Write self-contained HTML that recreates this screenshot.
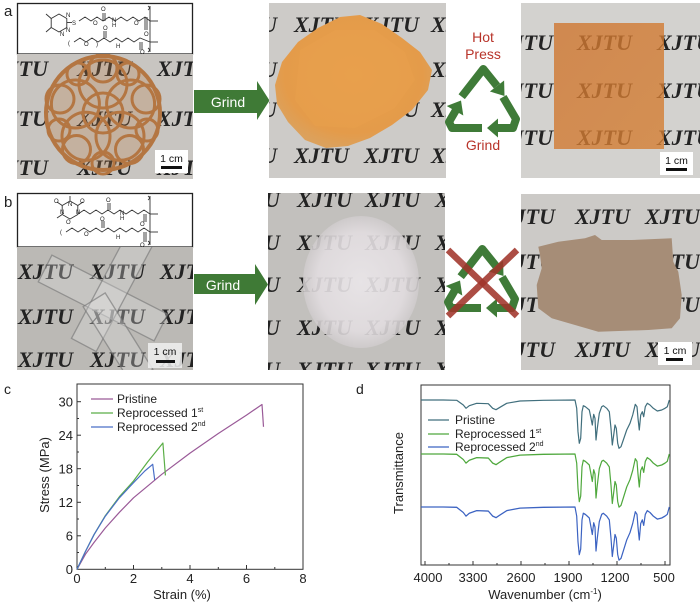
<!DOCTYPE html>
<html><head><meta charset="utf-8"><style>
html,body{margin:0;padding:0;background:#fff;}
body{width:700px;height:607px;overflow:hidden;}
svg{display:block;}
.x{font-family:"Liberation Serif",serif;font-weight:bold;font-style:italic;font-size:22px;fill:#232323;}
.t{font-family:"Liberation Sans",sans-serif;}
</style></head><body>
<svg width="700" height="607" viewBox="0 0 700 607" xmlns="http://www.w3.org/2000/svg">
<defs>
<clipPath id="ca1"><rect x="17" y="54" width="176" height="125"/></clipPath>
<clipPath id="ca2"><rect x="269" y="3" width="177" height="175"/></clipPath>
<clipPath id="ca3"><rect x="521" y="3" width="179" height="175"/></clipPath>
<clipPath id="cb1"><rect x="17" y="247" width="176" height="123"/></clipPath>
<clipPath id="cb2"><rect x="268" y="193" width="177" height="177"/></clipPath>
<clipPath id="cb3"><rect x="521" y="194" width="179" height="176"/></clipPath>
<radialGradient id="gpile" cx="50%" cy="45%" r="55%"><stop offset="0" stop-color="#e9a04c"/><stop offset="0.8" stop-color="#e49b4a"/><stop offset="1" stop-color="#dca15c"/></radialGradient>
<radialGradient id="gwhite" cx="50%" cy="50%" r="50%"><stop offset="0" stop-color="#ebe7ea"/><stop offset="0.75" stop-color="#e2dde0"/><stop offset="1" stop-color="#cfcbcc"/></radialGradient>
<linearGradient id="gplate" x1="0" y1="0" x2="1" y2="1"><stop offset="0" stop-color="#cf7630"/><stop offset="1" stop-color="#d47f34"/></linearGradient>
<g id="rec" fill="none" stroke="#3f7b38" stroke-width="8" stroke-linejoin="round">
 <polyline points="461.7,96.7 483.3,69 497,86"/>
 <polygon points="489.9,91.5 504.1,80.5 504.5,96" fill="#3f7b38" stroke="none"/>
 <polyline points="503,97 516,119 513,128 498,128"/>
 <polygon points="498,118.5 498,137.5 487,128" fill="#3f7b38" stroke="none"/>
 <polyline points="482,128 452,128 449,122 456,110"/>
 <polygon points="446.7,106 463.3,115.5 461,100.5" fill="#3f7b38" stroke="none"/>
</g>
</defs>

<!-- panel labels -->
<text class="t" x="4" y="16" font-size="15" fill="#222">a</text>
<text class="t" x="4" y="207" font-size="15" fill="#222">b</text>
<text class="t" x="4" y="394" font-size="14" fill="#222">c</text>
<text class="t" x="356" y="394" font-size="14" fill="#222">d</text>

<!-- ===== a chemical structure ===== -->
<rect x="17.5" y="3.5" width="175" height="50.5" fill="#fff" stroke="#222" stroke-width="1.3"/>
<g fill="none" stroke="#333" stroke-width="0.9">
 <polygon points="59,14 66.8,18.5 66.8,27.5 59,32 51.2,27.5 51.2,18.5"/>
 <line x1="51.2" y1="18.5" x2="46" y2="14"/><line x1="51.2" y1="27.5" x2="46" y2="32"/>
 <line x1="66.8" y1="22.5" x2="72" y2="22.5"/>
 <polyline points="79,21 85,17 91,21 97,17 103,21 109,17 115,21 121,17 127,21 133,17 139,21 145,17 150,21"/>
 <line x1="103" y1="21" x2="103" y2="13"/><line x1="105" y1="21" x2="105" y2="13"/>
 <line x1="145" y1="17" x2="145" y2="30"/><line x1="147" y1="17" x2="147" y2="30"/>
 <polyline points="74,42 80,38 86,42 92,38 98,42 104,38 110,42 116,38 122,42 128,38 134,42 140,38 150,42"/>
 <line x1="104" y1="38" x2="104" y2="31"/><line x1="106" y1="38" x2="106" y2="31"/>
 <line x1="140" y1="42" x2="140" y2="50"/><line x1="142" y1="42" x2="142" y2="50"/>
 <line x1="150" y1="6" x2="150" y2="52"/>
 <line x1="150" y1="21" x2="158" y2="21"/><line x1="150" y1="42" x2="158" y2="42"/>
 <path d="M148 6 q3 2 0 4 M148 48 q3 2 0 4"/>
</g>
<g class="t" font-size="6" fill="#222">
 <text x="66" y="17">N</text><text x="66" y="32">N</text><text x="60" y="36">N</text>
 <text x="72" y="25">S</text><text x="101" y="11">O</text><text x="93" y="25">O</text>
 <text x="112" y="27">H</text><text x="112" y="22">N</text><text x="134" y="25">O</text>
 <text x="144" y="36">O</text><text x="68" y="45">(</text><text x="84" y="46">O</text>
 <text x="96" y="46">)</text><text x="103" y="30">O</text><text x="116" y="48">H</text>
 <text x="140" y="54">O</text>
</g>

<!-- ===== a1 photo: sphere ===== -->
<g clip-path="url(#ca1)">
 <rect x="17" y="54" width="176" height="125" fill="#c8c5c1"/>
 <g class="x">
  <text x="-7" y="76">XJTU</text><text x="77" y="76">XJTU</text><text x="157" y="76">XJTU</text>
  <text x="-7" y="126">XJTU</text><text x="77" y="126">XJTU</text><text x="157" y="126">XJTU</text>
  <text x="-7" y="175">XJTU</text><text x="77" y="175">XJTU</text><text x="157" y="175">XJTU</text>
 </g>
 <circle cx="103" cy="113" r="57" fill="rgba(185,125,72,0.28)"/>
 <g fill="none" stroke="#b47642" stroke-width="3">
  <circle cx="103" cy="113" r="57" stroke-width="4"/>
  <circle cx="103" cy="113" r="20"/>
  <circle cx="103" cy="84" r="24"/><circle cx="130.6" cy="104" r="24"/><circle cx="120" cy="136.3" r="24"/>
  <circle cx="86" cy="136.3" r="24"/><circle cx="75.4" cy="104" r="24"/>
  <circle cx="103" cy="68" r="14"/><circle cx="146" cy="99" r="14"/><circle cx="129.5" cy="149.5" r="14"/>
  <circle cx="76.5" cy="149.5" r="14"/><circle cx="60" cy="99" r="14"/>
  <circle cx="128" cy="74" r="11"/><circle cx="147" cy="130" r="11"/><circle cx="103" cy="163" r="11"/>
  <circle cx="59" cy="130" r="11"/><circle cx="78" cy="74" r="11"/>
 </g>
 <rect x="155" y="150" width="33" height="23" fill="#fff"/>
 <text class="t" x="171.5" y="162" font-size="10.5" text-anchor="middle" fill="#111">1 cm</text>
 <rect x="161" y="166" width="21" height="3" fill="#111"/>
</g>

<!-- Grind arrow a -->
<polygon points="194,90 257,90 257,81 269.5,100.5 257,120 257,113 194,113" fill="#3f7a36"/>
<text class="t" x="228" y="107" font-size="14" fill="#fff" text-anchor="middle">Grind</text>

<!-- ===== a2 photo: orange pile ===== -->
<g clip-path="url(#ca2)">
 <rect x="269" y="3" width="177" height="175" fill="#cdcbc8"/>
 <g class="x">
  <text x="222" y="32">XJTU</text><text x="294" y="32">XJTU</text><text x="364" y="32">XJTU</text><text x="431" y="32">XJTU</text>
  <text x="222" y="77">XJTU</text><text x="294" y="77">XJTU</text><text x="364" y="77">XJTU</text><text x="431" y="77">XJTU</text>
  <text x="222" y="117">XJTU</text><text x="294" y="117">XJTU</text><text x="364" y="117">XJTU</text><text x="431" y="117">XJTU</text>
  <text x="222" y="163">XJTU</text><text x="294" y="163">XJTU</text><text x="364" y="163">XJTU</text><text x="431" y="163">XJTU</text>
 </g>
 <path d="M275,85 L282,62 L298,42 L318,28 L340,17 L360,15 L382,24 L402,38 L420,52 L432,70 L428,90 L412,110 L392,125 L370,138 L348,146 L326,148 L305,140 L288,122 L277,104 Z" fill="url(#gpile)"/>
 <path d="M300,50 L335,30 L375,30 L405,52 L415,80 L395,108 L355,128 L315,126 L295,100 Z" fill="#e8a04d" opacity="0.6"/>
</g>

<!-- recycle a + Hot Press -->
<use href="#rec"/>
<text class="t" x="483" y="42" font-size="14" fill="#b8342a" text-anchor="middle">Hot</text>
<text class="t" x="483" y="59" font-size="14" fill="#b8342a" text-anchor="middle">Press</text>
<text class="t" x="483" y="150" font-size="14" fill="#b8342a" text-anchor="middle">Grind</text>

<!-- ===== a3 photo: plate ===== -->
<g clip-path="url(#ca3)">
 <rect x="521" y="3" width="179" height="175" fill="#d3d2cf"/>
 <g class="x">
  <text x="498" y="50">XJTU</text><text x="577" y="50">XJTU</text><text x="657" y="50">XJTU</text>
  <text x="498" y="98">XJTU</text><text x="577" y="98">XJTU</text><text x="657" y="98">XJTU</text>
  <text x="498" y="145">XJTU</text><text x="577" y="145">XJTU</text><text x="657" y="145">XJTU</text>
 </g>
 <rect x="554" y="23" width="110" height="126" fill="url(#gplate)" opacity="0.8"/>
 <rect x="660" y="152" width="33" height="23" fill="#fff"/>
 <text class="t" x="676.5" y="164" font-size="10.5" text-anchor="middle" fill="#111">1 cm</text>
 <rect x="666" y="168" width="21" height="3" fill="#111"/>
</g>

<!-- ===== b chemical structure ===== -->
<rect x="17.5" y="193.5" width="175" height="53.5" fill="#fff" stroke="#222" stroke-width="1.3"/>
<g fill="none" stroke="#333" stroke-width="0.9">
 <polygon points="70,201 77.8,205.5 77.8,214.5 70,219 62.2,214.5 62.2,205.5"/>
 <line x1="70" y1="201" x2="70" y2="196"/><line x1="62.2" y1="214.5" x2="57" y2="218"/>
 <line x1="62.2" y1="205.5" x2="57" y2="202"/><line x1="77.8" y1="205.5" x2="83" y2="202"/>
 <polyline points="78,214 84,210 90,214 96,210 102,214 108,210 114,214 120,210 126,214 132,210 138,214 144,210 150,214"/>
 <line x1="108" y1="210" x2="108" y2="203"/><line x1="110" y1="210" x2="110" y2="203"/>
 <line x1="144" y1="214" x2="144" y2="222"/><line x1="146" y1="214" x2="146" y2="222"/>
 <polyline points="66,232 72,228 78,232 84,228 90,232 96,228 102,232 108,228 114,232 120,228 126,232 132,228 138,232 144,228 150,232"/>
 <line x1="102" y1="228" x2="102" y2="221"/><line x1="104" y1="228" x2="104" y2="221"/>
 <line x1="144" y1="232" x2="144" y2="242"/><line x1="146" y1="232" x2="146" y2="242"/>
 <line x1="150" y1="196" x2="150" y2="245"/>
 <line x1="150" y1="214" x2="158" y2="214"/><line x1="150" y1="232" x2="158" y2="232"/>
 <path d="M148 196 q3 2 0 4 M148 241 q3 2 0 4"/>
</g>
<g class="t" font-size="6" fill="#222">
 <text x="54" y="203">O</text><text x="80" y="203">O</text><text x="68" y="206">N</text>
 <text x="60" y="214">N</text><text x="76" y="214">N</text><text x="66" y="224">O</text>
 <text x="106" y="202">O</text><text x="120" y="220">H</text><text x="120" y="215">N</text>
 <text x="60" y="234">(</text><text x="84" y="236">O</text><text x="100" y="221">O</text>
 <text x="116" y="239">H</text><text x="140" y="247">O</text><text x="140" y="226">O</text>
</g>

<!-- ===== b1 photo: glass ===== -->
<g clip-path="url(#cb1)">
 <rect x="17" y="247" width="176" height="123" fill="#bbb9b5"/>
 <g class="x">
  <text x="18" y="279">XJTU</text><text x="90" y="279">XJTU</text><text x="160" y="279">XJTU</text>
  <text x="18" y="324">XJTU</text><text x="90" y="324">XJTU</text><text x="160" y="324">XJTU</text>
  <text x="18" y="367">XJTU</text><text x="90" y="367">XJTU</text><text x="160" y="367">XJTU</text>
 </g>
 <g fill="rgba(225,225,225,0.3)" stroke="rgba(120,120,120,0.65)" stroke-width="1.3">
  <rect x="-65" y="-15" width="130" height="30" transform="translate(103,298) rotate(27)"/>
  <rect x="-60" y="-14" width="120" height="28" transform="translate(112,292) rotate(-62)"/>
  <rect x="-45" y="-13" width="90" height="26" transform="translate(118,338) rotate(58)"/>
 </g>
 <rect x="148" y="343" width="34" height="25" fill="rgba(240,240,240,0.85)"/>
 <text class="t" x="165" y="355" font-size="10.5" text-anchor="middle" fill="#111">1 cm</text>
 <rect x="156" y="360" width="19" height="3" fill="#111"/>
</g>

<!-- Grind arrow b -->
<polygon points="194,274 255,274 255,264 268,284.5 255,305 255,294 194,294" fill="#3f7a36"/>
<text class="t" x="223" y="290" font-size="14" fill="#fff" text-anchor="middle">Grind</text>

<!-- ===== b2 photo: white pile ===== -->
<g clip-path="url(#cb2)">
 <rect x="268" y="193" width="177" height="177" fill="#c2c0bd"/>
 <g class="x">
  <text x="225" y="207">XJTU</text><text x="297" y="207">XJTU</text><text x="365" y="207">XJTU</text><text x="435" y="207">XJTU</text>
  <text x="225" y="250">XJTU</text><text x="297" y="250">XJTU</text><text x="365" y="250">XJTU</text><text x="435" y="250">XJTU</text>
  <text x="225" y="292">XJTU</text><text x="297" y="292">XJTU</text><text x="365" y="292">XJTU</text><text x="435" y="292">XJTU</text>
  <text x="225" y="335">XJTU</text><text x="297" y="335">XJTU</text><text x="365" y="335">XJTU</text><text x="435" y="335">XJTU</text>
  <text x="225" y="377">XJTU</text><text x="297" y="377">XJTU</text><text x="365" y="377">XJTU</text><text x="435" y="377">XJTU</text>
 </g>
 <ellipse cx="361" cy="282" rx="58" ry="66" fill="url(#gwhite)" opacity="0.9"/>
</g>

<!-- recycle b with X -->
<use href="#rec" transform="translate(-1,180)"/>
<g stroke="rgba(160,52,42,0.88)" stroke-width="6.5" stroke-linecap="butt">
 <line x1="448" y1="250" x2="517" y2="316"/>
 <line x1="517" y1="250" x2="448" y2="316"/>
</g>

<!-- ===== b3 photo: slab ===== -->
<g clip-path="url(#cb3)">
 <rect x="521" y="194" width="179" height="176" fill="#cccac7"/>
 <g class="x">
  <text x="500" y="224">XJTU</text><text x="575" y="224">XJTU</text><text x="645" y="224">XJTU</text>
  <text x="500" y="269">XJTU</text><text x="575" y="269">XJTU</text><text x="645" y="269">XJTU</text>
  <text x="500" y="312">XJTU</text><text x="575" y="312">XJTU</text><text x="645" y="312">XJTU</text>
  <text x="500" y="357">XJTU</text><text x="575" y="357">XJTU</text><text x="645" y="357">XJTU</text>
 </g>
 <polygon points="538.3,246.7 558.3,241.7 585,238.3 595,235 601.7,240 631.7,240 671.7,238.3 673.3,261.7 678.3,271.7 681.7,295 680,318.3 671.7,328.3 648.3,330 598.3,331.7 575,325 551.7,318.3 538.3,308.3 536.7,285 541.7,268.3 540,255" fill="#a68d77"/>
 <rect x="658" y="342" width="34" height="23" fill="#fff"/>
 <text class="t" x="675" y="354" font-size="10.5" text-anchor="middle" fill="#111">1 cm</text>
 <rect x="666" y="358" width="17" height="3" fill="#111"/>
</g>

<!-- ===== chart c ===== -->
<g class="t">
 <rect x="77" y="384" width="226" height="185.3" fill="none" stroke="#333" stroke-width="1"/>
 <g stroke="#333" stroke-width="1">
  <line x1="77" y1="569.3" x2="77" y2="565"/><line x1="133.5" y1="569.3" x2="133.5" y2="565"/>
  <line x1="190" y1="569.3" x2="190" y2="565"/><line x1="246.5" y1="569.3" x2="246.5" y2="565"/>
  <line x1="105.3" y1="569.3" x2="105.3" y2="567"/><line x1="161.8" y1="569.3" x2="161.8" y2="567"/>
  <line x1="218.3" y1="569.3" x2="218.3" y2="567"/><line x1="274.8" y1="569.3" x2="274.8" y2="567"/>
  <line x1="77" y1="535.8" x2="81" y2="535.8"/><line x1="77" y1="502.3" x2="81" y2="502.3"/>
  <line x1="77" y1="468.7" x2="81" y2="468.7"/><line x1="77" y1="435.2" x2="81" y2="435.2"/>
  <line x1="77" y1="401.7" x2="81" y2="401.7"/>
  <line x1="77" y1="552.5" x2="79" y2="552.5"/><line x1="77" y1="519" x2="79" y2="519"/>
  <line x1="77" y1="485.5" x2="79" y2="485.5"/><line x1="77" y1="452" x2="79" y2="452"/>
  <line x1="77" y1="418.5" x2="79" y2="418.5"/>
 </g>
 <g font-size="13" fill="#222" text-anchor="middle">
  <text x="77" y="583">0</text><text x="133.5" y="583">2</text><text x="190" y="583">4</text>
  <text x="246.5" y="583">6</text><text x="303" y="583">8</text>
 </g>
 <g font-size="13" fill="#222" text-anchor="end">
  <text x="73" y="574">0</text><text x="73" y="540.5">6</text><text x="73" y="507">12</text>
  <text x="73" y="473.5">18</text><text x="73" y="440">24</text><text x="73" y="406.5">30</text>
 </g>
 <text x="182" y="599" font-size="13" fill="#222" text-anchor="middle">Strain (%)</text>
 <text transform="translate(49,475) rotate(-90)" font-size="13" fill="#222" text-anchor="middle">Stress (MPa)</text>
 <g fill="none" stroke-width="1.2" stroke-linejoin="round">
  <polyline stroke="#9a5a98" points="77,569.3 85.5,554.2 94,542.5 105.3,528 119.4,512.3 133.5,497.8 161.8,474.3 190,453.1 218.3,433.5 246.5,415.1 262,404.5 263.5,426.8"/>
  <polyline stroke="#5bae47" points="77,569.3 85.5,551.4 94,534.7 105.3,515.7 119.4,496.7 133.5,481 147.6,462 162.9,443 165.4,475.4"/>
  <polyline stroke="#4a6fc6" points="77,569.3 85.5,551.4 94,534.7 105.3,516.2 119.4,497.8 133.5,482.7 144.8,471 152.7,464.3 154.7,479.9"/>
 </g>
 <line x1="91" y1="399" x2="113" y2="399" stroke="#9a5a98" stroke-width="1.3"/>
 <line x1="91" y1="413" x2="113" y2="413" stroke="#5bae47" stroke-width="1.3"/>
 <line x1="91" y1="427" x2="113" y2="427" stroke="#4a6fc6" stroke-width="1.3"/>
 <g font-size="12" fill="#222">
  <text x="117" y="403">Pristine</text>
  <text x="117" y="417">Reprocessed 1<tspan font-size="7" dy="-5">st</tspan></text>
  <text x="117" y="431">Reprocessed 2<tspan font-size="7" dy="-5">nd</tspan></text>
 </g>
</g>

<!-- ===== chart d ===== -->
<g class="t">
 <rect x="421" y="385" width="249" height="180" fill="none" stroke="#333" stroke-width="1"/>
 <g stroke="#333" stroke-width="1">
  <line x1="425" y1="565" x2="425" y2="561"/><line x1="473" y1="565" x2="473" y2="561"/>
  <line x1="521" y1="565" x2="521" y2="561"/><line x1="569" y1="565" x2="569" y2="561"/>
  <line x1="617" y1="565" x2="617" y2="561"/><line x1="665" y1="565" x2="665" y2="561"/>
  <line x1="449" y1="565" x2="449" y2="563"/><line x1="497" y1="565" x2="497" y2="563"/>
  <line x1="545" y1="565" x2="545" y2="563"/><line x1="593" y1="565" x2="593" y2="563"/>
  <line x1="641" y1="565" x2="641" y2="563"/>
 </g>
 <g font-size="13" fill="#222" text-anchor="middle">
  <text x="428" y="582">4000</text><text x="473" y="582">3300</text><text x="521" y="582">2600</text>
  <text x="568" y="582">1900</text><text x="615" y="582">1200</text><text x="664" y="582">500</text>
 </g>
 <text x="545" y="599" font-size="13" fill="#222" text-anchor="middle">Wavenumber (cm<tspan font-size="8" dy="-5">-1</tspan><tspan dy="5">)</tspan></text>
 <text transform="translate(403,473) rotate(-90)" font-size="13" fill="#222" text-anchor="middle">Transmittance</text>
 <defs>
  <path id="spec" fill="none" d="M421,400 L443.3,400 L456.7,400.3 L463.3,405 L466,408.3 L469.3,405.7 L476.7,403.3 L488.3,403.7 L492.7,408.3 L496,409.7 L499.3,407.7 L506.7,403.3 L520,401 L543.3,400.3 L575,400 L576.7,408.3 L578,431.7 L579.3,443.3 L580.7,438.3 L582,411.7 L583.3,405.7 L585.3,406.7 L587.3,408.3 L589.3,410 L591,418.3 L592.3,425 L593.7,414.3 L595,418.3 L596,440 L597.3,428.3 L599.3,413.3 L601.7,406.7 L603.3,405.7 L606.7,408.3 L609.3,411.7 L611,428.3 L612.3,445 L613.7,435 L615,425 L616.3,428.3 L617.7,443.3 L619,448.3 L621,446.7 L623.3,440 L626.7,430 L630,423.3 L632.7,415 L635.3,404.3 L637,406.7 L638,418.3 L639.3,430 L640.7,415 L642.3,411.7 L643.7,416.7 L645.3,406.7 L647.3,403.3 L650,405 L653.3,408.3 L657.3,411 L661.7,410 L665,408.3 L667.3,406.7 L669.3,400"/>
 </defs>
 <g stroke-width="1.2" stroke-linejoin="round">
  <use href="#spec" stroke="#416f7d"/>
  <use href="#spec" stroke="#4fa83d" transform="matrix(1 0 0 1.1 0 14)"/>
  <use href="#spec" stroke="#3c63c2" transform="matrix(1 0 0 1.1 0 67)"/>
 </g>
 <line x1="428" y1="420" x2="449" y2="420" stroke="#416f7d" stroke-width="1.3"/>
 <line x1="428" y1="434" x2="449" y2="434" stroke="#4fa83d" stroke-width="1.3"/>
 <line x1="428" y1="447" x2="449" y2="447" stroke="#3c63c2" stroke-width="1.3"/>
 <g font-size="12" fill="#222">
  <text x="455" y="424">Pristine</text>
  <text x="455" y="438">Reprocessed 1<tspan font-size="7" dy="-5">st</tspan></text>
  <text x="455" y="451">Reprocessed 2<tspan font-size="7" dy="-5">nd</tspan></text>
 </g>
</g>
</svg>
</body></html>
